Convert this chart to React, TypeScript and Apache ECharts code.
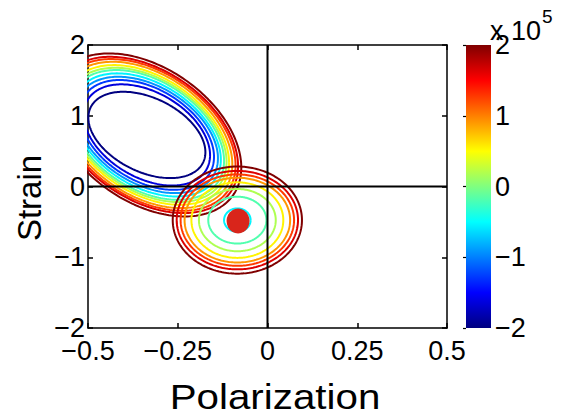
import React, { useEffect, useRef } from "react";
import * as echarts from "echarts";

// Contour levels (x 10^5), shared by both families
const levels = [-2, -1.636, -1.273, -0.909, -0.545, -0.182, 0.182, 0.545, 0.909, 1.273, 1.636, 2];

// Family 1: tilted ellipses (upper left), one per level index
const fam1Center = [-0.336, 0.729];
const fam1Phase = 113.6; // degrees
const fam1Levels = [0, 1, 2, 3, 4, 5, 6, 7, 8, 9, 10, 11];
const fam1HalfX = [0.163, 0.176, 0.187, 0.198, 0.206, 0.215, 0.222, 0.229, 0.238, 0.247, 0.254, 0.263];
const fam1HalfY = [0.61, 0.715, 0.776, 0.822, 0.87, 0.917, 0.949, 0.987, 1.034, 1.072, 1.104, 1.152];

// Family 2: axis-aligned ellipses around the minimum
const fam2Center = [-0.084, -0.475];
const fam2Levels = [4, 5, 6, 7, 8, 9, 10, 11];
const fam2HalfX = [0.037, 0.081, 0.107, 0.128, 0.147, 0.158, 0.169, 0.18];
const fam2HalfY = [0.165, 0.331, 0.44, 0.534, 0.599, 0.646, 0.696, 0.757];

// Marked point
const dotPoint = [-0.082, -0.487];

// Tick values
const xTicks = [-0.5, -0.25, 0, 0.25, 0.5];
const yTicks = [-2, -1, 0, 1, 2];
const cbTicks = [-2, -1, 0, 1, 2];

const FONT = "'Liberation Sans', Arial, Helvetica, sans-serif";

function jet(f: number): string {
  const c = (v: number) => Math.max(0, Math.min(1, v));
  const r = c(1.5 - Math.abs(4 * f - 3));
  const g = c(1.5 - Math.abs(4 * f - 2));
  const b = c(1.5 - Math.abs(4 * f - 1));
  return `rgb(${Math.round(r * 255)},${Math.round(g * 255)},${Math.round(b * 255)})`;
}

function ellipse(cx: number, cy: number, ax: number, by: number, phaseDeg: number): number[][] {
  const pts: number[][] = [];
  const ph = (phaseDeg * Math.PI) / 180;
  for (let k = 0; k <= 240; k++) {
    const t = (k / 240) * 2 * Math.PI;
    pts.push([cx + ax * Math.cos(t), cy + by * Math.cos(t - ph)]);
  }
  return pts;
}

const fmt = (v: number) => (v < 0 ? "\u2212" + String(Math.abs(v)) : String(v));

export default function App() {
  const ref = useRef<HTMLDivElement>(null);
  useEffect(() => {
    if (!ref.current) return;
    const chart = echarts.init(ref.current, undefined, { renderer: "svg" });
    const lmin = levels[0];
    const lmax = levels[levels.length - 1];
    const colorOf = (li: number) => jet((levels[li] - lmin) / (lmax - lmin));

    const series: any[] = [];
    fam1Levels.forEach((li, i) => {
      series.push({
        type: "line",
        xAxisIndex: 0,
        yAxisIndex: 0,
        data: ellipse(fam1Center[0], fam1Center[1], fam1HalfX[i], fam1HalfY[i], fam1Phase),
        showSymbol: false,
        symbol: "none",
        clip: true,
        lineStyle: { color: colorOf(li), width: 2 },
        z: 2,
      });
    });
    fam2Levels.forEach((li, i) => {
      series.push({
        type: "line",
        xAxisIndex: 0,
        yAxisIndex: 0,
        data: ellipse(fam2Center[0], fam2Center[1], fam2HalfX[i], fam2HalfY[i], 90),
        showSymbol: false,
        symbol: "none",
        clip: true,
        lineStyle: { color: colorOf(li), width: 2 },
        z: 2,
      });
    });
    // zero lines
    series.push({
      type: "line",
      xAxisIndex: 0,
      yAxisIndex: 0,
      data: [[0, yTicks[0]], [0, yTicks[yTicks.length - 1]]],
      symbol: "none",
      lineStyle: { color: "#000", width: 2 },
      z: 4,
    });
    series.push({
      type: "line",
      xAxisIndex: 0,
      yAxisIndex: 0,
      data: [[xTicks[0], 0], [xTicks[xTicks.length - 1], 0]],
      symbol: "none",
      lineStyle: { color: "#000", width: 2 },
      z: 4,
    });
    // point
    series.push({
      type: "scatter",
      xAxisIndex: 0,
      yAxisIndex: 0,
      data: [dotPoint],
      symbol: "circle",
      symbolSize: [23, 25],
      itemStyle: { color: "#d9251b", opacity: 1 },
      z: 5,
    });
    // colorbar
    const stops = [0, 0.125, 0.375, 0.625, 0.875, 1].map((o) => ({ offset: o, color: jet(o) }));
    series.push({
      type: "custom",
      xAxisIndex: 2,
      yAxisIndex: 2,
      data: [[0, cbTicks[0], 1, cbTicks[cbTicks.length - 1]]],
      renderItem: (params: any, api: any) => {
        const p0 = api.coord([api.value(0), api.value(1)]);
        const p1 = api.coord([api.value(2), api.value(3)]);
        return {
          type: "rect",
          shape: { x: p0[0], y: p1[1], width: p1[0] - p0[0], height: p0[1] - p1[1] },
          style: { fill: new echarts.graphic.LinearGradient(0, 1, 0, 0, stops) },
        };
      },
      z: 1,
    });

    const axisCommon = {
      type: "value",
      splitLine: { show: false },
      axisLine: { show: true, onZero: false, lineStyle: { color: "#000", width: 1.5 } },
      axisTick: { show: true, inside: true, length: 5, lineStyle: { color: "#000", width: 1.5 } },
    };
    const labelStyle = { color: "#000", fontSize: 27, fontFamily: FONT, formatter: fmt };

    chart.setOption({
      animation: false,
      backgroundColor: "#fff",
      grid: [
        { left: 88, right: 114, top: 45, bottom: 89, show: false },
        { left: 466, right: 70, top: 45, bottom: 89, show: false },
      ],
      xAxis: [
        { ...axisCommon, gridIndex: 0, position: "bottom", min: xTicks[0], max: xTicks[xTicks.length - 1], interval: 0.25, axisLabel: { ...labelStyle, margin: 9, showMinLabel: true, showMaxLabel: true } },
        { ...axisCommon, gridIndex: 0, position: "top", min: xTicks[0], max: xTicks[xTicks.length - 1], interval: 0.25, axisLabel: { show: false } },
        { type: "value", gridIndex: 1, min: 0, max: 1, show: false },
      ],
      yAxis: [
        { ...axisCommon, gridIndex: 0, position: "left", min: yTicks[0], max: yTicks[yTicks.length - 1], interval: 1, axisLabel: { ...labelStyle, margin: 3 } },
        { ...axisCommon, gridIndex: 0, position: "right", min: yTicks[0], max: yTicks[yTicks.length - 1], interval: 1, axisLabel: { show: false } },
        {
          type: "value",
          gridIndex: 1,
          position: "right",
          min: cbTicks[0],
          max: cbTicks[cbTicks.length - 1],
          interval: 1,
          splitLine: { show: false },
          axisLine: { show: false },
          axisTick: { show: true, inside: true, length: 3, lineStyle: { color: "#000", width: 1.2 } },
          axisLabel: { ...labelStyle, margin: 4 },
          z: 3,
        },
      ],
      graphic: [
        { type: "text", x: 275, y: 396, scaleX: 1.12, style: { text: "Polarization", fontSize: 36, fontFamily: FONT, fill: "#000", textAlign: "center", textVerticalAlign: "middle" } },
        { type: "text", x: 29, y: 198, rotation: Math.PI / 2, style: { text: "Strain", fontSize: 33, fontFamily: FONT, fill: "#000", textAlign: "center", textVerticalAlign: "middle" } },
        { type: "text", x: 490, y: 31, style: { text: "x 10", fontSize: 27, fontFamily: FONT, fill: "#000", textAlign: "left", textVerticalAlign: "middle" } },
        { type: "text", x: 542, y: 16, style: { text: "5", fontSize: 19, fontFamily: FONT, fill: "#000", textAlign: "left", textVerticalAlign: "middle" } },
      ],
      series,
    });
    return () => chart.dispose();
  }, []);
  return <div ref={ref} style={{ position: "fixed", left: 0, top: 0, width: 561, height: 417 }} />;
}
